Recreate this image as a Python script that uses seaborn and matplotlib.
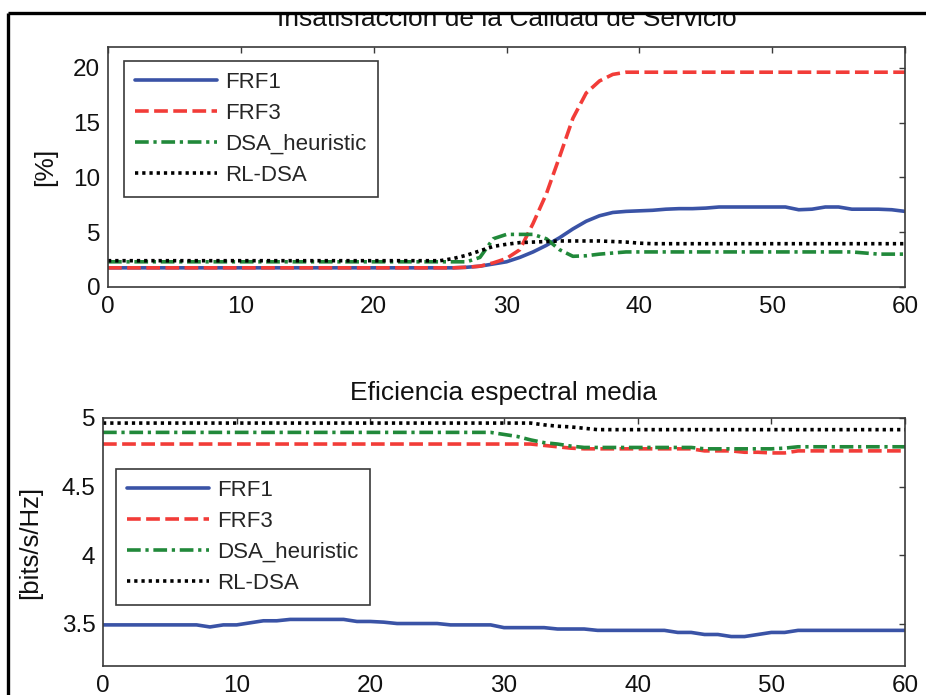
import numpy as np
import pandas as pd
import matplotlib
matplotlib.use("Agg")
import matplotlib.pyplot as plt
from matplotlib.lines import Line2D
from matplotlib.patches import Rectangle
from matplotlib.ticker import FormatStrFormatter
import seaborn as sns

# ---------------- data ----------------
t = list(range(0, 61))

# Top panel: QoS dissatisfaction [%]
qos_frf1 = [1.75]*27 + [1.8, 1.9, 2.1, 2.3, 2.7, 3.2, 3.8, 4.5, 5.3, 6.0, 6.5, 6.8, 6.9,
                        6.95, 7.0, 7.1, 7.15, 7.15, 7.2, 7.3, 7.3, 7.3, 7.3, 7.3, 7.3,
                        7.05, 7.1, 7.3, 7.3, 7.1, 7.1, 7.1, 7.05, 6.9]
qos_frf3 = [1.75]*27 + [1.8, 1.9, 2.2, 2.6, 3.4, 5.8, 8.5, 11.9, 15.4, 17.7, 18.8, 19.4,
                        19.6] + [19.6]*21
qos_dsa = [2.3]*28 + [2.7, 4.4, 4.8, 4.8, 4.8, 4.4, 3.4, 2.8, 2.85, 3.0, 3.1] + [3.2]*18 + \
          [3.1, 3.0, 3.0, 3.0]
qos_rl = [2.4]*26 + [2.6, 2.9, 3.3, 3.7, 3.9, 4.05, 4.1, 4.15, 4.2, 4.2, 4.2, 4.2, 4.15,
                     4.1, 4.0] + [3.95]*20

# Bottom panel: mean spectral efficiency [bits/s/Hz]
se_frf1 = [3.49]*8 + [3.475, 3.49, 3.49, 3.505, 3.52, 3.52] + [3.53]*5 + \
          [3.515, 3.515, 3.51, 3.50, 3.50, 3.50, 3.50, 3.49, 3.49, 3.49, 3.49] + \
          [3.47]*4 + [3.46]*3 + [3.45]*6 + [3.435, 3.435, 3.42, 3.42, 3.405, 3.405,
                                            3.42, 3.435, 3.435] + [3.45]*9
se_frf3 = [4.81]*33 + [4.80, 4.79, 4.78] + [4.775]*9 + [4.76]*3 + [4.75, 4.75, 4.745, 4.745] + \
          [4.76]*9
se_dsa = [4.895]*30 + [4.88, 4.865, 4.84, 4.82, 4.81, 4.795] + [4.785]*9 + [4.775]*6 + \
         [4.78] + [4.79]*9
se_rl = [4.963]*33 + [4.95, 4.94, 4.935, 4.925] + [4.915]*24

labels = ["FRF1", "FRF3", "DSA_heuristic", "RL-DSA"]
xticks = [0, 10, 20, 30, 40, 50, 60]
yticks_top = [0, 5, 10, 15, 20]
yticks_bot = [3.5, 4, 4.5, 5]

# ---------------- style ----------------
sns.set_style("white")
plt.rcParams["font.family"] = ["Liberation Sans", "DejaVu Sans"]

colors = ["#3a53a6", "#f23c38", "#21893a", "#000000"]
lw = 2.6
styles = ["-", (0, (3.8, 1.5)), (0, (3.8, 1.3, 0.9, 1.3)), (0, (0.9, 1.1))]

fig = plt.figure(figsize=(9.26, 6.95), dpi=100)
W, H = 926.0, 695.0
ax1 = fig.add_axes([108 / W, 1 - 287 / H, (905 - 108) / W, (287 - 47) / H])
ax2 = fig.add_axes([103 / W, 1 - 666 / H, (905 - 103) / W, (666 - 418) / H])

top_series = [qos_frf1, qos_frf3, qos_dsa, qos_rl]
bot_series = [se_frf1, se_frf3, se_dsa, se_rl]

for ax, series in ((ax1, top_series), (ax2, bot_series)):
    for vals, lab, c, ls in zip(series, labels, colors, styles):
        df = pd.DataFrame({"t": t, "v": vals})
        sns.lineplot(data=df, x="t", y="v", ax=ax, color=c, linewidth=lw,
                     linestyle=ls, label=lab)
    ax.set_xlim(0, 60)
    ax.set_xticks(xticks)
    ax.set_xlabel("")
    for s in ax.spines.values():
        s.set_color("#3a3a3a")
        s.set_linewidth(1.2)
        s.set_visible(True)
    ax.tick_params(direction="in", length=4, width=1.0, color="#3a3a3a",
                   top=True, right=True, labelsize=17.5, labelcolor="#111111")
    ax.tick_params(axis="x", pad=6.5)
    ax.tick_params(axis="y", pad=5.5)

ax1.set_ylim(0, 21.9)
ax1.set_yticks(yticks_top)
ax1.set_ylabel("[%]", fontsize=19, color="#111111")
ax1.yaxis.set_label_coords(-0.064, 0.5)
ax1.set_title("Insatisfacción de la Calidad de Servicio", fontsize=19, pad=15,
              color="#111111")

ax2.set_ylim(3.19, 5.0)
ax2.set_yticks(yticks_bot)
ax2.yaxis.set_major_formatter(FormatStrFormatter("%g"))
ax2.set_ylabel("[bits/s/Hz]", fontsize=18.5, color="#111111")
ax2.yaxis.set_label_coords(-0.076, 0.5)
ax2.set_title("Eficiencia espectral media", fontsize=19, pad=13, color="#111111")

leg_kw = dict(loc="upper left", fontsize=16, frameon=True, fancybox=False,
              shadow=False, framealpha=1, edgecolor="#3a3a3a", borderpad=0.5,
              handlelength=3.7, handletextpad=0.35, labelspacing=0.45,
              borderaxespad=0)
l1 = ax1.legend(bbox_to_anchor=((124 - 108) / 797, (287 - 61) / 240), **leg_kw)
l2 = ax2.legend(bbox_to_anchor=((116 - 103) / 802, (666 - 469) / 248), **leg_kw)
for lg in (l1, l2):
    lg.get_frame().set_linewidth(1.2)

# white cover above frame and frame lines
fig.add_artist(Rectangle((0, 1 - 12 / H), 1, 12 / H, transform=fig.transFigure,
                         facecolor="white", edgecolor="none", zorder=10))
fig.add_artist(Line2D([8 / W, 1], [1 - 13 / H, 1 - 13 / H], transform=fig.transFigure,
                      color="black", linewidth=2.4, zorder=11, solid_capstyle="butt"))
fig.add_artist(Line2D([8 / W, 8 / W], [0, 1 - 13 / H], transform=fig.transFigure,
                      color="black", linewidth=2.4, zorder=11, solid_capstyle="butt"))

fig.savefig("out.png", dpi=100)
